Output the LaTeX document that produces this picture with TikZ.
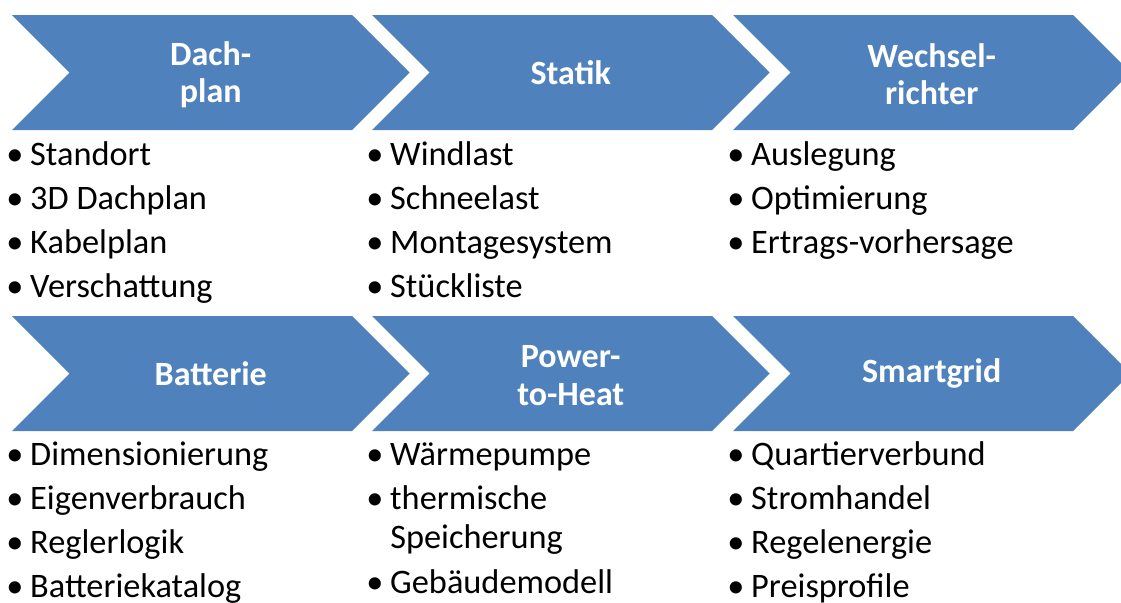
\documentclass[tikz,border=0pt]{standalone}
\usepackage{fontspec}
\setmainfont{Carlito}
\usepackage{tikz}

\definecolor{chevblue}{HTML}{4F81BD}

% chevron: left x, top y, name of its centre
\newcommand\chevron[3]{%
  \fill[chevblue] (#1,#2) -- ++(340,0) -- ++(57.5,57.5) -- ++(-57.5,57.5)
    -- ++(-340,0) -- ++(57.5,-57.5) -- cycle;
  \coordinate (#3) at (#1+198.75,#2+57.5);}
\newcommand\bul{\makebox[18pt][l]{\textbullet}}

\tikzset{
  title/.style={text=white, align=center, inner sep=0pt,
    font=\bfseries\fontsize{25.5}{28}\selectfont},
  item/.style={anchor=base west, inner sep=0pt,
    font=\fontsize{25.75}{28.5}\selectfont},
}

\begin{document}
\begin{tikzpicture}[x=0.75pt, y=-0.75pt]

\clip (0,0) rectangle (1121,603);

\chevron{12}{15}{dach}
\chevron{372}{15}{statik}
\chevron{733}{15}{wr}
\chevron{12}{316}{batt}
\chevron{372}{316}{p2h}
\chevron{733}{316}{sg}

\node[title] (tdach) at ([yshift=-1.5pt]dach) {Dach-\\plan};
\node[title] (tstatik) at (statik) {Statik};
\node[title] (twr) at ([yshift=-1.5pt]wr) {Wechsel-\\richter};
\node[title] (tbatt) at (batt) {Batterie};
\node[title] (tp2h) at ([yshift=-1.5pt]p2h) {Power-\\to-Heat};
\node[title] (tsg) at (sg) {Smartgrid};

\node[item] (d1) at (6,165) {\bul Standort};
\node[item] (d2) at (6,209) {\bul 3D Dachplan};
\node[item] (d3) at (6,253) {\bul Kabelplan};
\node[item] (d4) at (6,297) {\bul Verschattung};

\node[item] (s1) at (366,165) {\bul Windlast};
\node[item] (s2) at (366,209) {\bul Schneelast};
\node[item] (s3) at (366,253) {\bul Montagesystem};
\node[item] (s4) at (366,297) {\bul Stückliste};

\node[item] (w1) at (727,165) {\bul Auslegung};
\node[item] (w2) at (727,209) {\bul Optimierung};
\node[item] (w3) at (727,253) {\bul Ertrags-vorhersage};

\node[item] (b1) at (6,465) {\bul Dimensionierung};
\node[item] (b2) at (6,509) {\bul Eigenverbrauch};
\node[item] (b3) at (6,553) {\bul Reglerlogik};
\node[item] (b4) at (6,597) {\bul Batteriekatalog};

\node[item] (p1) at (366,465) {\bul Wärmepumpe};
\node[item] (p2) at (366,509) {\bul thermische};
\node[item] (p2b) at (390,548) {Speicherung};
\node[item] (p3) at (366,593) {\bul Gebäudemodell};

\node[item] (g1) at (727,465) {\bul Quartierverbund};
\node[item] (g2) at (727,509) {\bul Stromhandel};
\node[item] (g3) at (727,553) {\bul Regelenergie};
\node[item] (g4) at (727,597) {\bul Preisprofile};

\end{tikzpicture}
\end{document}
